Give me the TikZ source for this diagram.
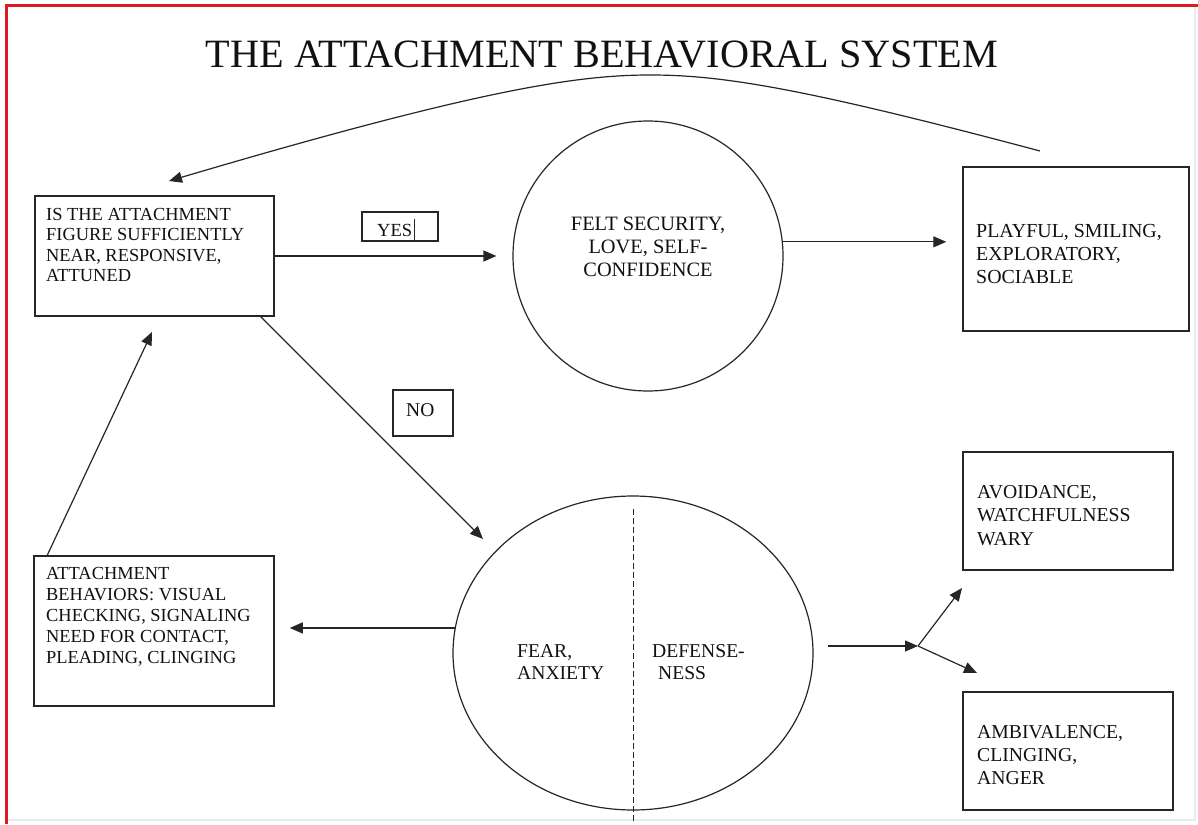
\documentclass[tikz,border=0pt]{standalone}
\usepackage{fontspec}
\setmainfont{Liberation Serif}
\usetikzlibrary{arrows.meta,calc,shapes.geometric}
\newcommand\llines[2]{\vtop{\baselineskip=#1\relax\halign{##\hfil\cr#2\crcr}}}
\newcommand\clines[2]{\vtop{\baselineskip=#1\relax\halign{\hfil##\hfil\cr#2\crcr}}}
\definecolor{ink}{HTML}{111111}
\definecolor{edge}{HTML}{262626}
\definecolor{frame}{HTML}{DE1A24}
\definecolor{faint}{HTML}{E6EEF2}
\begin{document}
\begin{tikzpicture}[x=1pt,y=-1pt,
  box/.style={draw=edge,line width=1.5pt,rectangle,inner sep=0pt},
  lbl/.style={inner sep=0pt,anchor=base west,text=ink},
  arr/.style={draw=edge,line width=1.2pt,-{Triangle[length=13pt,width=11pt]}},
  outl/.style={draw=edge,line width=1.2pt,inner sep=0pt}
]
\useasboundingbox (0,0) rectangle (1198,824);
\fill[white] (0,0) rectangle (1198,824);
% page frame
\draw[faint,line width=2pt] (1195,6) -- (1195,820) -- (6,820);
\draw[frame,line width=3pt] (6,824) -- (6,6) -- (1198,6);

% title
\node[inner sep=0pt,anchor=base,text=ink] (title) at (602,68)
  {\fontsize{40.2}{42}\selectfont THE ATTACHMENT BEHAVIORAL SYSTEM};

% boxes
\node[box,minimum width=239pt,minimum height=120pt] (q) at (154.5,256) {};
\node[lbl] (qt) at (46,220) {\fontsize{18.4}{20.6}\selectfont
  \llines{20.6pt}{IS THE ATTACHMENT\cr FIGURE SUFFICIENTLY\cr NEAR, RESPONSIVE,\cr ATTUNED}};

\node[box,minimum width=240pt,minimum height=150pt] (att) at (154,631) {};
\node[lbl] (attt) at (46,579) {\fontsize{18.4}{21}\selectfont
  \llines{21pt}{ATTACHMENT\cr BEHAVIORS: VISUAL\cr CHECKING, SIGNALING\cr NEED FOR CONTACT,\cr PLEADING, CLINGING}};

\node[box,minimum width=226pt,minimum height=164pt] (play) at (1076,249) {};
\node[lbl] (playt) at (976,237) {\fontsize{19.9}{23}\selectfont
  \llines{23pt}{PLAYFUL, SMILING,\cr EXPLORATORY,\cr SOCIABLE}};

\node[box,minimum width=210pt,minimum height=118pt] (avoid) at (1068,511) {};
\node[lbl] (avoidt) at (977,498) {\fontsize{19.7}{23.5}\selectfont
  \llines{23.5pt}{AVOIDANCE,\cr WATCHFULNESS\cr WARY}};

\node[box,minimum width=210pt,minimum height=118pt] (amb) at (1068,751) {};
\node[lbl] (ambt) at (977,738) {\fontsize{19.7}{23}\selectfont
  \llines{23pt}{AMBIVALENCE,\cr CLINGING,\cr ANGER}};

% yes / no labels
\node[box,minimum width=76pt,minimum height=29pt] (yes) at (400,226.5) {};
\node[lbl] (yest) at (377,236) {\fontsize{18.5}{20}\selectfont YES};
\coordinate (cursor) at (414,219);
\draw[edge,line width=1pt] (cursor) -- (cursor |- yes.south);
\node[box,minimum width=60pt,minimum height=46pt] (no) at (423,413) {};
\node[lbl] (not) at (406,416) {\fontsize{19.5}{20}\selectfont NO};

% circle
\node[outl,circle,minimum size=270pt] (secure) at (648,256) {};
\node[inner sep=0pt,anchor=base,text=ink] (securet) at (648,230.7) {\fontsize{20.4}{23}\selectfont
  \clines{23pt}{FELT SECURITY,\cr LOVE, SELF-\cr CONFIDENCE}};

% ellipse
\node[outl,ellipse,minimum width=360pt,minimum height=314pt] (fear) at (633,653) {};
\draw[edge,line width=1pt,dash pattern=on 6pt off 3pt]
  ($(fear.north)+(0,14)$) -- ($(fear.south)+(0,12)$);
\node[lbl] (feart) at (517,657) {\fontsize{19.6}{22}\selectfont
  \llines{22pt}{FEAR,\cr ANXIETY}};
\node[lbl] (deft) at (652,657) {\fontsize{19.6}{22}\selectfont
  \llines{22pt}{DEFENSE-\cr\kern6pt NESS}};

% connectors
\coordinate (cs) at (1040,151);
\coordinate (ce) at (169,181);
\draw[arr] (cs) .. controls (800,87) and (720,75) .. (650,75)
  .. controls (578,75) and (480,89) .. (ce);

\draw[arr,shorten >=16pt] (q.east) -- (secure.west);
\draw[arr,shorten >=16pt] (secure.6.4) -- (secure.6.4 -| play.west);

\coordinate (nostart) at ($(q.south east)+(-14,0)$);
\coordinate (notip) at (483,539);
\draw[arr] (nostart) -- (notip);

\draw[arr,shorten >=15pt] (fear.172.6) -- (fear.172.6 -| att.east);

\coordinate (upstart) at ($(att.north west)+(14,0)$);
\coordinate (uptip) at (152,332);
\draw[arr] (upstart) -- (uptip);

\coordinate (split) at (918,646);
\coordinate (avtip) at (962,588);
\coordinate (ambtip) at (977,673);
\draw[arr,shorten <=14pt] (fear.east |- split) -- (split);
\draw[arr] (split) -- (avtip);
\draw[arr] (split) -- (ambtip);
\end{tikzpicture}
\end{document}
